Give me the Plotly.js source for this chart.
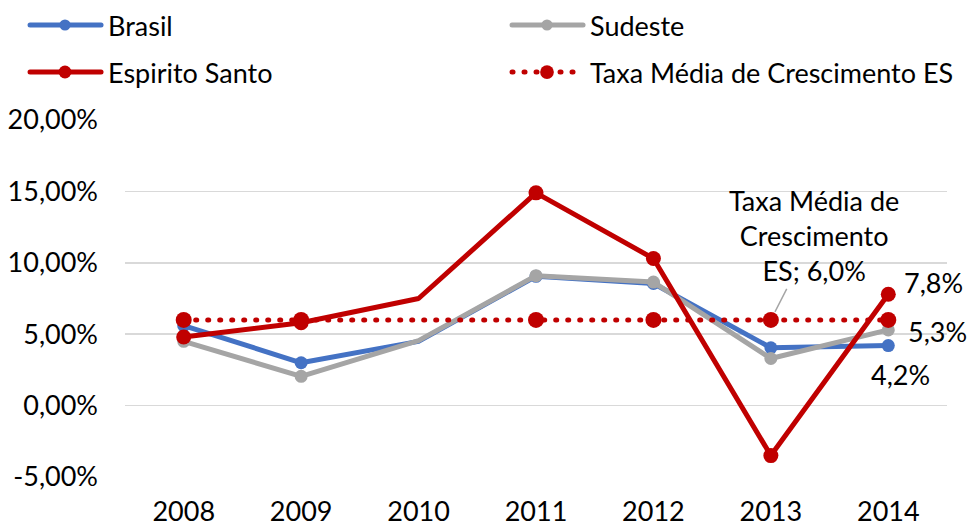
<!DOCTYPE html>
<html>
<head>
<meta charset="utf-8">
<script src="https://cdn.plot.ly/plotly-3.0.1.min.js"></script>
<style>
html,body{margin:0;padding:0;background:#fff;}
#chart{width:968px;height:526px;}
#chart path.js-line{stroke-linecap:round;stroke-linejoin:round;}
#chart .infolayer .scrollbox{clip-path:none !important;}
#chart .legendlines path{transform:translateX(-49.8px) scaleX(2.367);vector-effect:non-scaling-stroke;}
#chart .legendsymbols{transform:translateX(-23px);}
</style>
</head>
<body>
<div id="chart"></div>
<script>
var years = ['2008', '2009', '2010', '2011', '2012', '2013', '2014'];
var brasil = [5.6, 3.0, 4.5, 9.05, 8.55, 4.05, 4.2];
var sudeste = [4.5, 2.05, 4.55, 9.1, 8.65, 3.3, 5.3];
var espirito = [4.8, 5.8, 7.5, 14.9, 10.3, -3.5, 7.8];
var taxaMedia = [6.0, 6.0, 6.0, 6.0, 6.0, 6.0, 6.0];
var yTickVals = [-5, 0, 5, 10, 15, 20];
var yTickText = ['-5,00%', '0,00%', '5,00%', '10,00%', '15,00%', '20,00%'];
var names = ['Brasil', 'Sudeste', 'Espirito Santo', 'Taxa Média de Crescimento ES'];
var calloutText = 'Taxa Média de<br>Crescimento<br>ES; ';

var FONT = 'Lato, Carlito, Calibri, sans-serif';
var FS = 27;
function sizes(s) { return years.map(function (y) { return y === '2010' ? 0 : s; }); }
function fmt(v) { return v.toFixed(1).replace('.', ',') + '%'; }
function mk(color, s) { return {color: color, size: sizes(s), opacity: 1, line: {width: 0}}; }

var traces = [
  {x: years, y: brasil, name: names[0], type: 'scatter', mode: 'lines+markers', legend: 'legend', legendwidth: 437,
   line: {color: '#4472C4', width: 5}, marker: mk('#4472C4', 13)},
  {x: years, y: sudeste, name: names[1], type: 'scatter', mode: 'lines+markers', legend: 'legend', legendwidth: 150,
   line: {color: '#A5A5A5', width: 5}, marker: mk('#A5A5A5', 13)},
  {x: years, y: espirito, name: names[2], type: 'scatter', mode: 'lines+markers', legend: 'legend2', legendwidth: 437,
   line: {color: '#C00000', width: 5}, marker: mk('#C00000', 15)},
  {x: years, y: taxaMedia, name: names[3], type: 'scatter', mode: 'lines+markers', legend: 'legend2', legendwidth: 370,
   line: {color: '#C00000', width: 5, dash: '1px,11px'}, marker: mk('#C00000', 16)}
];

var last = years.length - 1;
var tf = {family: FONT, size: FS, color: '#000'};
var annotations = [
  {x: last, y: espirito[last], xref: 'x', yref: 'y', text: fmt(espirito[last]), showarrow: false,
   xanchor: 'left', yanchor: 'middle', xshift: 14, yshift: 12, font: tf},
  {x: last, y: sudeste[last], xref: 'x', yref: 'y', text: fmt(sudeste[last]), showarrow: false,
   xanchor: 'left', yanchor: 'middle', xshift: 18, yshift: -2, font: tf},
  {x: last, y: brasil[last], xref: 'x', yref: 'y', text: fmt(brasil[last]), showarrow: false,
   xanchor: 'center', yanchor: 'middle', xshift: 12, yshift: -29, font: tf},
  {x: 5, y: taxaMedia[5], xref: 'x', yref: 'y', text: calloutText + fmt(taxaMedia[5]), showarrow: true,
   ax: 43, ay: -84, arrowhead: 0, arrowwidth: 1.5, arrowcolor: '#A6A6A6', standoff: 9,
   align: 'center', font: tf}
];

var PH = 526 - 120 - 49;
var legendBase = {orientation: 'h', xref: 'paper', yref: 'paper', xanchor: 'left', yanchor: 'top',
  x: (68 - 125) / 822, bgcolor: 'rgba(0,0,0,0)', font: tf, itemclick: false};

var layout = {
  width: 968, height: 526,
  margin: {l: 125, r: 21, t: 120, b: 49, pad: 0, autoexpand: false},
  paper_bgcolor: '#fff', plot_bgcolor: '#fff',
  font: tf,
  showlegend: true,
  legend: Object.assign({}, legendBase, {y: 1 + (120 - 1) / PH}),
  legend2: Object.assign({}, legendBase, {y: 1 + (120 - 48) / PH}),
  xaxis: {type: 'category', range: [-0.5, 6.5], showgrid: false, zeroline: false, showline: false,
    ticks: '', ticklabelstandoff: 16, tickfont: tf},
  yaxis: {range: [-5, 20], tickvals: yTickVals, ticktext: yTickText, showgrid: true,
    gridcolor: '#D9D9D9', gridwidth: 1.5, zeroline: false, showline: false, ticks: '',
    ticklabelstandoff: 26, tickfont: tf},
  annotations: annotations,
  hovermode: false
};

Plotly.newPlot('chart', traces, layout, {displayModeBar: false, staticPlot: true});
</script>
</body>
</html>
